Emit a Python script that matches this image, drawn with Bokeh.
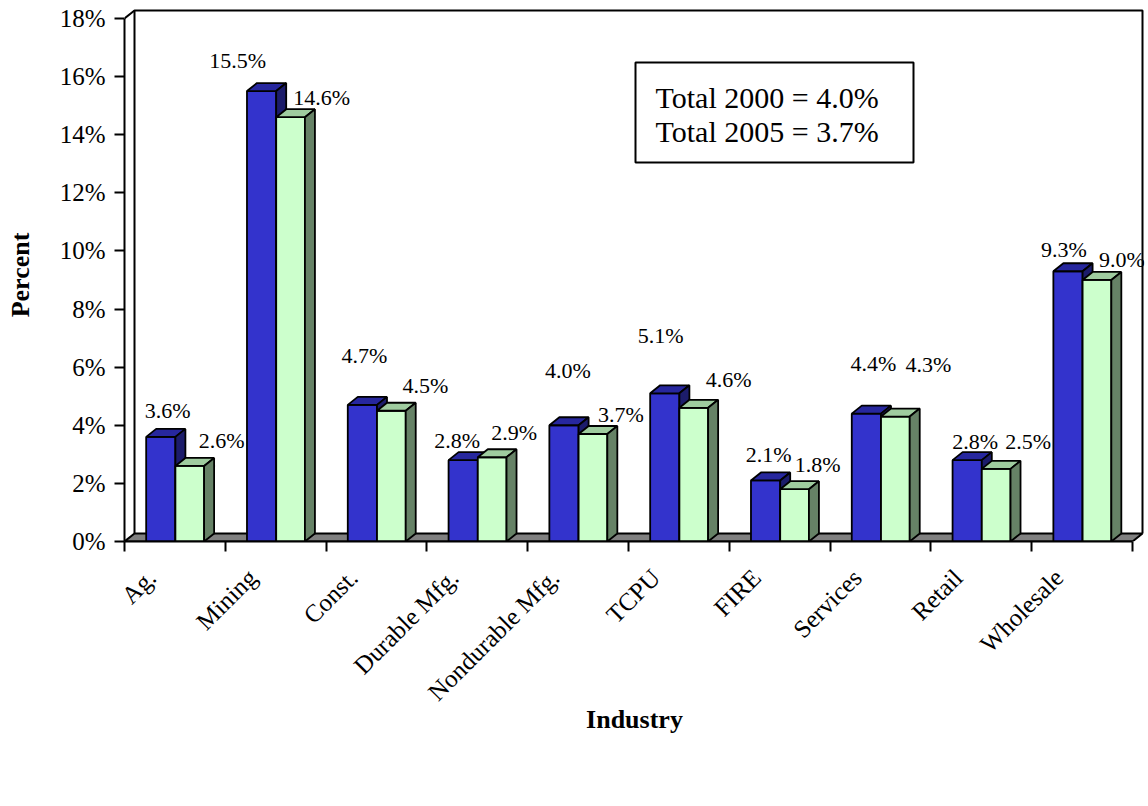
import numpy as np
from math import pi
from bokeh.plotting import figure
from bokeh.models import (ColumnDataSource, FixedTicker, LabelSet, Label, Legend,
                          LegendItem, BoxAnnotation, Range1d)
from bokeh.core.properties import value
from bokeh.embed import file_html
from bokeh.resources import INLINE

# ---------------- data ----------------
categories = ["Ag.", "Mining", "Const.", "Durable Mfg.", "Nondurable Mfg.",
              "TCPU", "FIRE", "Services", "Retail", "Wholesale"]
values_2000 = [3.6, 15.5, 4.7, 2.8, 4.0, 5.1, 2.1, 4.4, 2.8, 9.3]
values_2005 = [2.6, 14.6, 4.5, 2.9, 3.7, 4.6, 1.8, 4.3, 2.5, 9.0]
series_names = ["2000", "2005"]
y_ticks = [0, 2, 4, 6, 8, 10, 12, 14, 16, 18]
y_tick_labels = ["0%", "2%", "4%", "6%", "8%", "10%", "12%", "14%", "16%", "18%"]
total_2000 = 4.0
total_2005 = 3.7

# ---------------- layout / style ----------------
FONT = "Liberation Serif"
W, H = 1148, 806
LEFT, RIGHT, TOP, BOTTOM = 124, 4, 8, 265
PX_PER_X = 100.8
PX_PER_Y = 29.06
frame_w = W - LEFT - RIGHT
frame_h = H - TOP - BOTTOM
DX = 10 / PX_PER_X          # 3-D depth (data units)
DY = 8 / PX_PER_Y
LABEL_SHIFT = 0.23          # category labels sit a little left of the slot centre

lab_dx_2000 = [7, -24, 2, -6, 4, -4, 3, 7, 8, -4]
lab_dy_2000 = [26, 31, 49, 20, 55, 58, 26, 50, 19, 22]
lab_dx_2005 = [32, 31, 34, 22, 28, 35, 23, 33, 32, 25]
lab_dy_2005 = [25, 20, 25, 25, 19, 28, 25, 52, 27, 20]

p = figure(frame_width=frame_w, frame_height=frame_h, output_backend="svg",
           toolbar_location=None,
           x_range=Range1d(0, frame_w / PX_PER_X), y_range=Range1d(0, frame_h / PX_PER_Y),
           min_border_left=LEFT, min_border_right=RIGHT, min_border_top=TOP,
           min_border_bottom=BOTTOM)
p.outline_line_color = None
p.xgrid.visible = False
p.ygrid.visible = False
p.background_fill_color = "white"

n = len(categories)
ymax = max(y_ticks)

p.yaxis.ticker = FixedTicker(ticks=y_ticks)
p.yaxis.major_label_overrides = dict(zip(y_ticks, y_tick_labels))
p.yaxis.bounds = (0, ymax)
p.yaxis.axis_line_width = 2
p.yaxis.major_tick_line_width = 2
p.yaxis.major_tick_out = 10
p.yaxis.major_tick_in = 0
p.yaxis.minor_tick_line_color = None
p.yaxis.major_label_standoff = 9
p.yaxis.major_label_text_font = FONT
p.yaxis.major_label_text_font_size = "25px"
p.yaxis.major_label_text_color = "black"
p.yaxis.axis_label = "Percent"
p.yaxis.axis_label_text_font = FONT
p.yaxis.axis_label_text_font_size = "26px"
p.yaxis.axis_label_text_font_style = "bold"
p.yaxis.axis_label_text_color = "black"
p.yaxis.axis_label_standoff = 22

label_ticks = [round(i + 0.5 - LABEL_SHIFT, 3) for i in range(n)]
p.xaxis.ticker = FixedTicker(ticks=label_ticks, minor_ticks=list(range(n + 1)))
p.xaxis.major_label_overrides = dict(zip(label_ticks, categories))
p.xaxis.bounds = (0, n)
p.xaxis.axis_line_width = 2
p.xaxis.major_tick_line_color = None
p.xaxis.major_tick_out = 10
p.xaxis.major_tick_in = 0
p.xaxis.minor_tick_line_color = "black"
p.xaxis.minor_tick_line_width = 2
p.xaxis.minor_tick_out = 10
p.xaxis.minor_tick_in = 0
p.xaxis.major_label_orientation = pi / 4
p.xaxis.major_label_standoff = 22
p.xaxis.major_label_text_font = FONT
p.xaxis.major_label_text_font_size = "25px"
p.xaxis.major_label_text_color = "black"
p.xaxis.axis_label = "Industry"
p.xaxis.axis_label_text_font = FONT
p.xaxis.axis_label_text_font_size = "26px"
p.xaxis.axis_label_text_font_style = "bold"
p.xaxis.axis_label_text_color = "black"
p.xaxis.axis_label_standoff = -13

p.patch([0, n, n + DX, DX], [0, 0, DY, DY], fill_color="#808080",
        line_color="black", line_width=2)
p.line([0, DX, n + DX, n + DX], [ymax, ymax + DY, ymax + DY, DY],
       line_color="black", line_width=2)
p.line([DX, DX], [DY, ymax + DY], line_color="black", line_width=2)

idx = np.arange(n)
specs = [
    (values_2000, idx + 0.215, idx + 0.505, "#3333CC", "#27279E", "#1C1C6B"),
    (values_2005, idx + 0.505, idx + 0.79, "#CCFFCC", "#9FCC9F", "#668266"),
]
front_renderers = []
for vals, x0, x1, cfront, ctop, cside in specs:
    v = np.array(vals, dtype=float)
    r = p.quad(left=x0, right=x1, bottom=0, top=v, fill_color=cfront,
               line_color="black", line_width=1.8)
    front_renderers.append(r)
    top_xs = [[a, b, b + DX, a + DX] for a, b in zip(x0, x1)]
    top_ys = [[t, t, t + DY, t + DY] for t in v]
    p.patches(top_xs, top_ys, fill_color=ctop, line_color="black", line_width=1.8)
    side_xs = [[b, b + DX, b + DX, b] for b in x1]
    side_ys = [[0, DY, t + DY, t] for t in v]
    p.patches(side_xs, side_ys, fill_color=cside, line_color="black", line_width=1.8)

for vals, x0, x1, dxs, dys in [(values_2000, idx + 0.215, idx + 0.505, lab_dx_2000, lab_dy_2000),
                               (values_2005, idx + 0.505, idx + 0.79, lab_dx_2005, lab_dy_2005)]:
    src = ColumnDataSource(dict(x=(x0 + x1) / 2, y=vals,
                                text=[f"{v:.1f}%" for v in vals], xo=dxs, yo=dys))
    p.add_layout(LabelSet(x="x", y="y", text="text", source=src, x_offset="xo",
                          y_offset="yo", text_align="center", text_baseline="middle",
                          text_font=value(FONT), text_font_size="22px",
                          text_color="black"))

p.add_layout(BoxAnnotation(left=(635 - LEFT) / PX_PER_X, right=(913 - LEFT) / PX_PER_X,
                           top=(541 - 62) / PX_PER_Y, bottom=(541 - 162) / PX_PER_Y,
                           fill_color="white", fill_alpha=1, line_color="black",
                           line_alpha=1, line_width=2, level="annotation"))
for i, (yr, tot) in enumerate([("2000", total_2000), ("2005", total_2005)]):
    base = 97 + i * 34
    p.add_layout(Label(x=(655 - LEFT) / PX_PER_X, y=(541 - base) / PX_PER_Y,
                       text=f"Total {yr} = {tot:.1f}%", text_align="left",
                       text_baseline="alphabetic", text_font=FONT,
                       text_font_size="30px", text_color="black"))

legend = Legend(items=[LegendItem(label=s, renderers=[r])
                       for s, r in zip(series_names, front_renderers)],
                orientation="horizontal", location="top_center",
                border_line_color="black", border_line_width=2,
                background_fill_color="white", background_fill_alpha=1,
                padding=8, spacing=14, margin=14, glyph_width=19, glyph_height=19,
                label_height=26, label_standoff=8, label_text_font=FONT,
                label_text_font_size="26px", label_text_color="black")
p.add_layout(legend, "below")

open("out.html", "w").write(file_html(p, INLINE))
